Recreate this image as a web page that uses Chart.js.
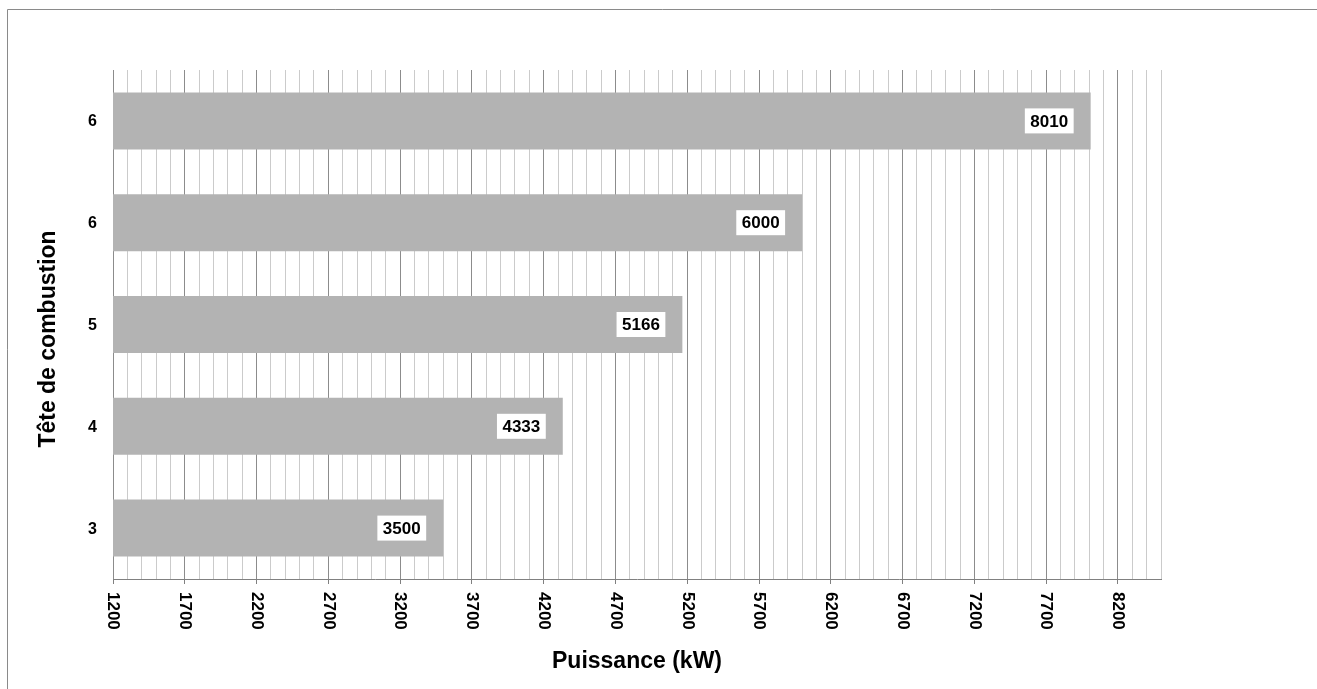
<!DOCTYPE html>
<html>
<head>
<meta charset="utf-8">
<script src="https://cdn.jsdelivr.net/npm/chart.js@4/dist/chart.umd.min.js"></script>
<style>
  html, body { margin: 0; padding: 0; background: #fff; }
  #wrap { width: 1317px; height: 689px; position: relative; }
</style>
</head>
<body>
<div id="wrap"><canvas id="grafico"></canvas></div>
<script>
// têtes de combustion et puissance max (kW)
const tetes = ['6', '6', '5', '4', '3'];
const puissances = [8010, 6000, 5166, 4333, 3500];
const etiquettesX = [1200, 1700, 2200, 2700, 3200, 3700, 4200, 4700, 5200, 5700, 6200, 6700, 7200, 7700, 8200];

const POLICE = '"Liberation Sans", Arial, sans-serif';
const estMajeur = v => etiquettesX.includes(v);

// cadre, libellés des axes et étiquettes de valeur dessinés à la main
const habillage = {
    id: 'habillage',
    beforeDraw(chart) {
        const ctx = chart.ctx;
        ctx.save();
        ctx.strokeStyle = '#8a8a8a';
        ctx.lineWidth = 1;
        ctx.beginPath();
        ctx.moveTo(7.5, 700);
        ctx.lineTo(7.5, 9.5);
        ctx.lineTo(1330, 9.5);
        ctx.stroke();
        ctx.restore();
    },
    afterDraw(chart) {
        const ctx = chart.ctx;
        const x = chart.scales.x, y = chart.scales.y;
        const area = chart.chartArea;
        ctx.save();
        ctx.fillStyle = '#000';

        // graduations X, écrites de haut en bas
        ctx.font = 'bold 17px ' + POLICE;
        ctx.textAlign = 'left';
        ctx.textBaseline = 'middle';
        etiquettesX.forEach(v => {
            ctx.save();
            ctx.translate(x.getPixelForValue(v), area.bottom + 13);
            ctx.rotate(Math.PI / 2);
            ctx.fillText(String(v), 0, 0);
            ctx.restore();
        });

        // graduations Y
        ctx.font = 'bold 16px ' + POLICE;
        ctx.textAlign = 'right';
        tetes.forEach((t, i) => {
            ctx.fillText(t, area.left - 16, y.getPixelForValue(i) + 1);
        });

        // titres des axes
        ctx.font = 'bold 23px ' + POLICE;
        ctx.textAlign = 'center';
        ctx.textBaseline = 'alphabetic';
        ctx.fillText('Puissance (kW)', (area.left + area.right) / 2, 668);
        ctx.save();
        ctx.translate(55, 339);
        ctx.rotate(-Math.PI / 2);
        ctx.fillText('Tête de combustion', 0, 0);
        ctx.restore();

        // étiquettes de valeur dans les barres
        ctx.font = 'bold 17px ' + POLICE;
        ctx.textBaseline = 'middle';
        chart.getDatasetMeta(0).data.forEach((bar, i) => {
            const txt = String(puissances[i]);
            const w = ctx.measureText(txt).width + 11;
            const h = 25;
            const droite = bar.x - 17;
            ctx.fillStyle = '#fff';
            ctx.fillRect(droite - w, bar.y - h / 2, w, h);
            ctx.fillStyle = '#000';
            ctx.fillText(txt, droite - w / 2, bar.y + 1);
        });
        ctx.restore();
    }
};

new Chart(document.getElementById('grafico'), {
    type: 'bar',
    data: {
        labels: tetes,
        datasets: [{
            data: puissances,
            backgroundColor: '#b3b3b3',
            borderWidth: 0,
            barPercentage: 0.56,
            categoryPercentage: 1
        }]
    },
    options: {
        indexAxis: 'y',
        responsive: true,
        maintainAspectRatio: false,
        animation: false,
        layout: { padding: { left: 113, top: 70, right: 156, bottom: 105 } },
        plugins: {
            legend: { display: false },
            tooltip: { enabled: false }
        },
        scales: {
            x: {
                min: 1200,
                max: 8500,
                ticks: { display: false, stepSize: 100 },
                grid: {
                    color: c => estMajeur(c.tick.value) ? '#8c8c8c' : '#cbcbcb',
                    tickColor: c => estMajeur(c.tick.value) ? '#808080' : 'rgba(0,0,0,0)',
                    tickLength: 5,
                    lineWidth: 1
                },
                border: { color: '#808080', width: 1 }
            },
            y: {
                ticks: { display: false },
                grid: { display: false, drawTicks: false },
                border: { display: false }
            }
        }
    },
    plugins: [habillage]
});
</script>
</body>
</html>
